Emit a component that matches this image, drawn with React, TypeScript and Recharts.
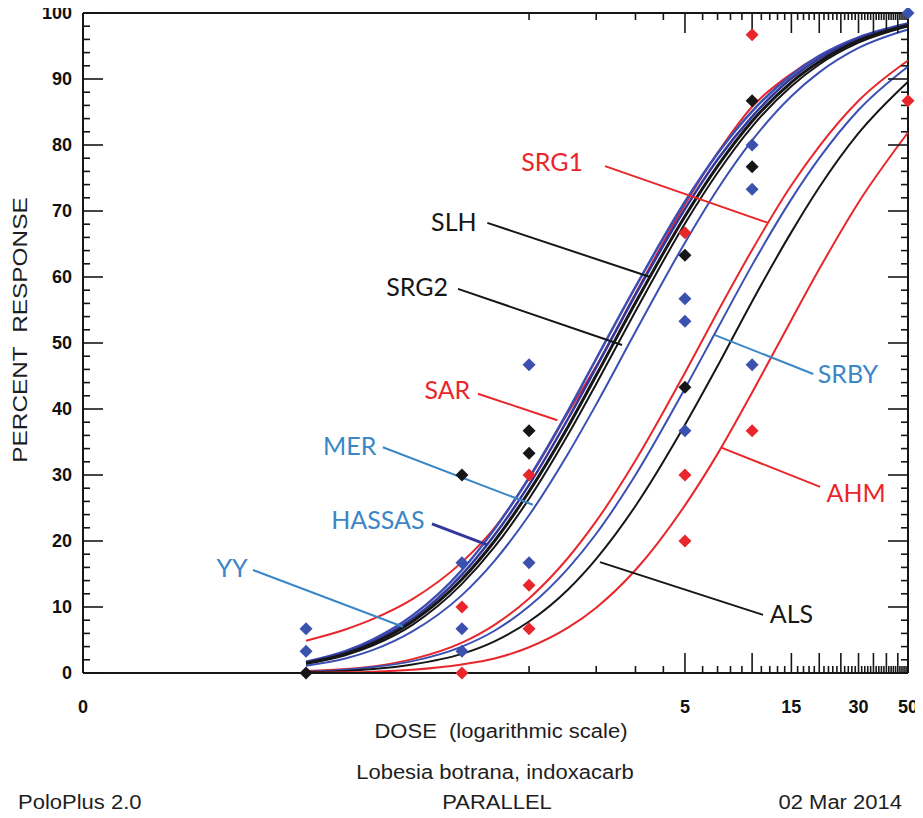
import React from 'react';
import { ComposedChart, Line, Scatter, XAxis, YAxis, ReferenceLine, ReferenceDot } from 'recharts';

const doses = [0.1, 0.15, 0.2, 0.3, 0.5, 0.7, 1, 1.5, 2, 3, 5, 7, 10, 15, 20, 30, 50];

// percent response of each fitted line at those doses
const SAR = [4.9, 6.6, 8.2, 11.2, 16.8, 22, 29.5, 39.5, 46.5, 57.5, 71, 78.8, 85.8, 90.8, 93.5, 96.2, 98.2];
const YY = [1.7, 3.3, 5.1, 8.7, 15.6, 21.8, 29.6, 39.8, 47.6, 58.5, 71.4, 78.7, 85.1, 90.6, 93.5, 96.3, 98.4];
const HASSAS = [1.6, 3.1, 4.8, 8.2, 14.9, 20.9, 28.5, 38.6, 46.3, 57.3, 70.3, 77.8, 84.3, 90.1, 93.1, 96.1, 98.3];
const SLH = [1.5, 2.9, 4.5, 7.8, 14.2, 20.0, 27.5, 37.4, 45.1, 56.1, 69.2, 76.8, 83.6, 89.5, 92.6, 95.8, 98.1];
const SRG2 = [1.4, 2.7, 4.2, 7.3, 13.5, 19.1, 26.4, 36.2, 43.8, 54.8, 68.1, 75.8, 82.8, 88.9, 92.2, 95.5, 98.0];
const MER = [1.1, 2.2, 3.5, 6.3, 11.8, 17.0, 23.9, 33.3, 40.7, 51.7, 65.2, 73.3, 80.7, 87.4, 91.0, 94.7, 97.5];
const SRG1 = [0.3, 0.6, 1.0, 2.1, 4.6, 7.3, 11.3, 17.5, 23.0, 32.2, 45.5, 54.7, 64.1, 73.9, 79.8, 86.7, 92.8];
const SRBY = [0.2, 0.5, 0.9, 1.8, 4.0, 6.4, 10.1, 15.9, 21.1, 30.0, 43.1, 52.2, 61.8, 71.8, 78.0, 85.3, 91.9];
const ALS = [0.1, 0.3, 0.6, 1.3, 2.9, 4.8, 7.8, 12.7, 17.3, 25.3, 37.6, 46.5, 56.3, 66.8, 73.6, 81.8, 89.6];
const AHM = [0.0, 0.1, 0.2, 0.5, 1.3, 2.2, 3.9, 6.9, 9.9, 15.6, 25.4, 33.2, 42.5, 53.5, 61.2, 71.3, 81.9];

// observed responses [dose, percent]
const redObs = [[0.5, 10], [0.5, 0], [1, 30], [1, 13.3], [1, 6.7], [5, 66.7], [5, 30], [5, 20], [10, 96.7], [10, 36.7], [50, 86.7]];
const blueObs = [[0.1, 6.7], [0.1, 3.3], [0.5, 16.7], [0.5, 6.7], [0.5, 3.3], [1, 46.7], [1, 16.7], [5, 56.7], [5, 53.3], [5, 36.7], [10, 80], [10, 73.3], [10, 46.7], [50, 100]];
const blackObs = [[0.1, 0], [0.5, 30], [1, 36.7], [1, 33.3], [5, 63.3], [5, 43.3], [10, 86.7], [10, 76.7]];

const xLabelTicks = [0.01, 5, 15, 30, 50];
const xIntTicks = Array.from({ length: 50 }, (_, i) => i + 1);
const yLabelTicks = [0, 10, 20, 30, 40, 50, 60, 70, 80, 90, 100];
const yTicks = Array.from({ length: 51 }, (_, i) => i * 2);

const RED = '#e8262b';
const BLUE = '#3b4fb3';
const INDIGO = '#34379a';
const BLACK = '#161616';
const LABEL_BLUE = '#3a86c6';

const series = [
  { key: 'SAR', values: SAR, color: RED, width: 2 },
  { key: 'MER', values: MER, color: BLUE, width: 2 },
  { key: 'YY', values: YY, color: BLUE, width: 2.5 },
  { key: 'HASSAS', values: HASSAS, color: INDIGO, width: 2.5 },
  { key: 'SRG2', values: SRG2, color: BLACK, width: 2 },
  { key: 'SLH', values: SLH, color: BLACK, width: 3 },
  { key: 'SRG1', values: SRG1, color: RED, width: 2 },
  { key: 'SRBY', values: SRBY, color: BLUE, width: 2 },
  { key: 'ALS', values: ALS, color: BLACK, width: 2 },
  { key: 'AHM', values: AHM, color: RED, width: 2 },
];

const curveRows: Record<string, number>[] = doses.map((dose, i) => {
  const row: Record<string, number> = { dose };
  series.forEach(s => { row[s.key] = s.values[i]; });
  return row;
});

// frame edges along the top (0.01..50 at 100 %) and the right (50, 0..100 %)
const chartRows: Record<string, number>[] = [
  { dose: 0.01, frameTop: 100 },
  ...curveRows.slice(0, -1),
  { ...curveRows[curveRows.length - 1], frameTop: 100 },
  { dose: 50, frameRight: 0 },
  { dose: 50, frameRight: 100 },
];

const toPts = (obs: number[][]) => obs.map(([dose, pct]) => ({ dose, pct }));

// callout labels: text position and leader line, in data coordinates
const callouts = [
  { text: 'SRG1', color: RED, line: RED, at: [1.27, 77.6], from: [2.19, 76.8], to: [11.8, 68.2] },
  { text: 'SLH', color: BLACK, line: BLACK, at: [0.46, 68.5], from: [0.65, 68.2], to: [3.49, 60.0] },
  { text: 'SRG2', color: BLACK, line: BLACK, at: [0.315, 58.6], from: [0.48, 58.2], to: [2.61, 49.7] },
  { text: 'SAR', color: RED, line: RED, at: [0.43, 43.0], from: [0.59, 42.3], to: [1.34, 38.3] },
  { text: 'MER', color: LABEL_BLUE, line: LABEL_BLUE, at: [0.157, 34.5], from: [0.221, 34.2], to: [1.04, 25.5] },
  { text: 'HASSAS', color: LABEL_BLUE, line: INDIGO, at: [0.21, 23.3], from: [0.367, 22.6], to: [0.65, 19.4] },
  { text: 'YY', color: LABEL_BLUE, line: LABEL_BLUE, at: [0.0466, 16.1], from: [0.0578, 15.6], to: [0.272, 7.0] },
  { text: 'SRBY', color: LABEL_BLUE, line: LABEL_BLUE, at: [26.9, 45.5], from: [18.8, 45.3], to: [6.82, 51.2] },
  { text: 'AHM', color: RED, line: RED, at: [29.3, 27.4], from: [20.2, 28.2], to: [7.33, 34.1] },
  { text: 'ALS', color: BLACK, line: BLACK, at: [15.0, 9.1], from: [11.2, 8.8], to: [2.08, 16.8] },
];

// anchors of the inward frame ticks on the four sides
const bottomTickPts = xIntTicks.map(v => ({ dose: v, pct: 0, side: 'b' }));
const topTickPts = xIntTicks.map(v => ({ dose: v, pct: 100, side: 't' }));
const leftTickPts = yTicks.map(v => ({ dose: 0.01, pct: v, side: 'l' }));
const rightTickPts = yTicks.map(v => ({ dose: 50, pct: v, side: 'r' }));

const xLen = (v: number) => (v % 5 === 0 ? 20 : 7);
const yLen = (v: number) => (v % 10 === 0 ? 20 : 7);

// tick drawn as a thin filled bar running into the plot
const tickBar = (side: string) => (props: any) => {
  const { cx, cy } = props;
  const p = props.payload || {};
  const w = 0.8;
  let pts = '';
  if (side === 'b') { const L = xLen(p.dose); pts = `${cx - w},${cy} ${cx + w},${cy} ${cx + w},${cy - L} ${cx - w},${cy - L}`; }
  if (side === 't') { const L = xLen(p.dose); pts = `${cx - w},${cy} ${cx + w},${cy} ${cx + w},${cy + L} ${cx - w},${cy + L}`; }
  if (side === 'l') { const L = yLen(p.pct); pts = `${cx},${cy - w} ${cx + L},${cy - w} ${cx + L},${cy + w} ${cx},${cy + w}`; }
  if (side === 'r') { const L = yLen(p.pct); pts = `${cx},${cy - w} ${cx - L},${cy - w} ${cx - L},${cy + w} ${cx},${cy + w}`; }
  return <polygon points={pts} fill={BLACK} />;
};

const diamond = (color: string) => (props: any) => {
  const { cx, cy } = props;
  const r = 6.5;
  return <polygon points={`${cx},${cy - r} ${cx + r},${cy} ${cx},${cy + r} ${cx - r},${cy}`} fill={color} />;
};

const sans = '"Liberation Sans", Arial, sans-serif';
const tickFont = { fill: '#111', fontSize: 18, fontWeight: 700, fontFamily: sans };

const BottomTick = (props: any) => {
  const { x, y, payload } = props;
  const v = payload.value;
  return (
    <text x={x} y={y + 34} textAnchor="middle" dominantBaseline="central" {...tickFont}>{v === 0.01 ? '0' : v}</text>
  );
};

const LeftTick = (props: any) => {
  const { x, y, payload } = props;
  return (
    <text x={x - 11} y={y} textAnchor="end" dominantBaseline="central" {...tickFont}>{payload.value}</text>
  );
};

const textStyle: React.CSSProperties = {
  position: 'absolute',
  fontFamily: sans,
  fontSize: 20,
  color: '#1e1e1e',
  whiteSpace: 'nowrap',
  transform: 'translate(-50%, -50%) scaleX(1.1)',
};

const frame = { stroke: BLACK, strokeWidth: 2 };

export default function App() {
  return (
    <div style={{ position: 'relative', width: 923, height: 818, margin: -8, background: '#fff' }}>
      <ComposedChart width={923} height={818} data={chartRows} margin={{ top: 13, right: 15, bottom: 0, left: 23 }}>
        <XAxis dataKey="dose" type="number" scale="log" domain={[0.01, 50]} ticks={xLabelTicks} interval={0}
          axisLine={frame} tickLine={false} tickSize={0} tickMargin={0} height={145} tick={BottomTick} />
        <YAxis type="number" domain={[0, 100]} ticks={yLabelTicks} interval={0} axisLine={frame} tickLine={false}
          tickSize={0} tickMargin={0} width={60} tick={LeftTick} />

        <Line dataKey="frameTop" type="linear" stroke={BLACK} strokeWidth={2} connectNulls
          dot={false} activeDot={false} isAnimationActive={false} />
        <Line dataKey="frameRight" type="linear" stroke={BLACK} strokeWidth={2} connectNulls
          dot={false} activeDot={false} isAnimationActive={false} />

        {series.map(s => (
          <Line key={s.key} dataKey={s.key} type="monotone" stroke={s.color} strokeWidth={s.width}
            dot={false} activeDot={false} isAnimationActive={false} />
        ))}

        <Scatter data={bottomTickPts} dataKey="pct" shape={tickBar('b')} isAnimationActive={false} />
        <Scatter data={topTickPts} dataKey="pct" shape={tickBar('t')} isAnimationActive={false} />
        <Scatter data={leftTickPts} dataKey="pct" shape={tickBar('l')} isAnimationActive={false} />
        <Scatter data={rightTickPts} dataKey="pct" shape={tickBar('r')} isAnimationActive={false} />

        <Scatter data={toPts(redObs)} dataKey="pct" shape={diamond(RED)} isAnimationActive={false} />
        <Scatter data={toPts(blueObs)} dataKey="pct" shape={diamond('#3a52ad')} isAnimationActive={false} />
        <Scatter data={toPts(blackObs)} dataKey="pct" shape={diamond(BLACK)} isAnimationActive={false} />

        {callouts.map(c => (
          <ReferenceLine key={c.text + '-line'} segment={[{ x: c.from[0], y: c.from[1] }, { x: c.to[0], y: c.to[1] }]}
            stroke={c.line} strokeWidth={c.text === 'HASSAS' ? 3 : 2} />
        ))}
        {callouts.map(c => (
          <ReferenceDot key={c.text} x={c.at[0]} y={c.at[1]} r={0}
            shape={(p: any) => (
              <text x={p.cx} y={p.cy} textAnchor="middle" dominantBaseline="central" fill={c.color}
                fontFamily="Lato, 'Open Sans', sans-serif" fontSize={25}>{c.text}</text>
            )} />
        ))}
      </ComposedChart>

      <div style={{ ...textStyle, fontSize: 21, left: 20, top: 330, transform: 'translate(-50%, -50%) rotate(-90deg) scaleX(1.16)' }}>PERCENT&nbsp; RESPONSE</div>
      <div style={{ ...textStyle, left: 501, top: 731 }}>DOSE&nbsp; (logarithmic scale)</div>
      <div style={{ ...textStyle, left: 495, top: 772 }}>Lobesia botrana, indoxacarb</div>
      <div style={{ ...textStyle, left: 18, top: 802, transform: 'translate(0, -50%) scaleX(1.1)', transformOrigin: 'left center' }}>PoloPlus 2.0</div>
      <div style={{ ...textStyle, left: 497, top: 802 }}>PARALLEL</div>
      <div style={{ ...textStyle, left: 902, top: 802, transform: 'translate(-100%, -50%) scaleX(1.1)', transformOrigin: 'right center' }}>02 Mar 2014</div>
    </div>
  );
}
